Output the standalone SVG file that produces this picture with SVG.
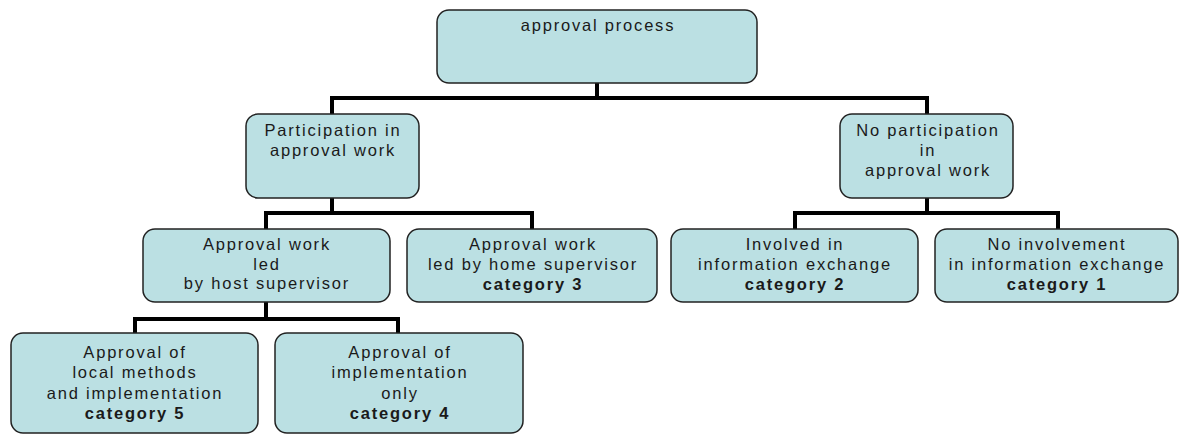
<svg xmlns="http://www.w3.org/2000/svg" width="1179" height="435" viewBox="0 0 1179 435">
<style>
.box{fill:#bbe0e3;stroke:#222;stroke-width:1.5}
text{font-family:"Liberation Sans",Arial,sans-serif;font-size:16.5px;letter-spacing:1.8px;fill:#1a1a1a;text-anchor:middle}
.b{font-weight:bold}
.con{fill:none;stroke:#000;stroke-width:4;stroke-linejoin:miter}
</style>
<rect width="1179" height="435" fill="#fff"/>
<g id="connectors">
<path class="con" d="M597 83V98"/>
<path class="con" d="M332 114V98H927V114"/>
<path class="con" d="M332 198V213"/>
<path class="con" d="M266 229V213H532V229"/>
<path class="con" d="M927 198V213"/>
<path class="con" d="M795 229V213H1058V229"/>
<path class="con" d="M266 302V319"/>
<path class="con" d="M135 333V319H398V333"/>
</g>
<g id="n-root">
<rect class="box" x="437" y="10" width="320" height="73" rx="12"/>
<text x="598" y="31">approval process</text>
</g>
<g id="n-part">
<rect class="box" x="246" y="114" width="173" height="84" rx="12"/>
<text x="333" y="136">Participation in</text>
<text x="333" y="156">approval work</text>
</g>
<g id="n-nopart">
<rect class="box" x="840" y="114" width="173" height="84" rx="12"/>
<text x="928" y="136">No participation</text>
<text x="928" y="156">in</text>
<text x="928" y="176">approval work</text>
</g>
<g id="n-host">
<rect class="box" x="143" y="229" width="247" height="73" rx="12"/>
<text x="267" y="250">Approval work</text>
<text x="267" y="270">led</text>
<text x="267" y="289">by host supervisor</text>
</g>
<g id="n-cat3">
<rect class="box" x="407" y="229" width="250" height="73" rx="12"/>
<text x="533" y="250">Approval work</text>
<text x="533" y="270">led by home supervisor</text>
<text class="b" x="533" y="290">category 3</text>
</g>
<g id="n-cat2">
<rect class="box" x="671" y="229" width="247" height="73" rx="12"/>
<text x="795" y="250">Involved in</text>
<text x="795" y="270">information exchange</text>
<text class="b" x="795" y="290">category 2</text>
</g>
<g id="n-cat1">
<rect class="box" x="935" y="229" width="243" height="73" rx="12"/>
<text x="1057" y="250">No involvement</text>
<text x="1057" y="270">in information exchange</text>
<text class="b" x="1057" y="290">category 1</text>
</g>
<g id="n-cat5">
<rect class="box" x="11" y="333" width="247" height="100" rx="12"/>
<text x="135" y="358">Approval of</text>
<text x="135" y="378">local methods</text>
<text x="135" y="399">and implementation</text>
<text class="b" x="135" y="419">category 5</text>
</g>
<g id="n-cat4">
<rect class="box" x="275" y="333" width="248" height="100" rx="12"/>
<text x="400" y="358">Approval of</text>
<text x="400" y="378">implementation</text>
<text x="400" y="399">only</text>
<text class="b" x="400" y="419">category 4</text>
</g>
</svg>
